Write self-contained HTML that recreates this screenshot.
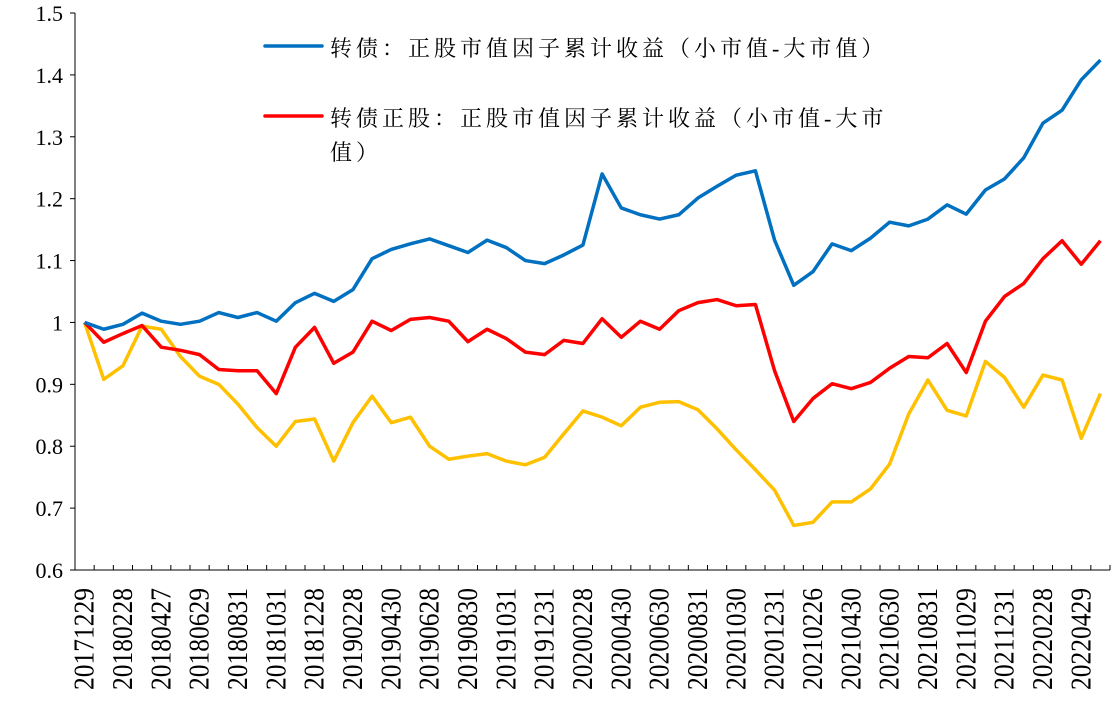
<!DOCTYPE html>
<html><head><meta charset="utf-8"><style>
html,body{margin:0;padding:0;background:#fff;}
svg{display:block;}
</style></head><body>
<svg id="chart" width="1119" height="708" xmlns="http://www.w3.org/2000/svg"></svg>
<script>
const categories = ["20171229","20180131","20180228","20180330","20180427","20180531","20180629","20180731","20180831","20180928","20181031","20181130","20181228","20190131","20190228","20190329","20190430","20190531","20190628","20190731","20190830","20190930","20191031","20191129","20191231","20200123","20200228","20200331","20200430","20200529","20200630","20200731","20200831","20200930","20201030","20201130","20201231","20210129","20210226","20210331","20210430","20210531","20210630","20210730","20210831","20210930","20211029","20211130","20211231","20220128","20220228","20220331","20220429","20220531"];
const blueValues = [1.0,0.989,0.997,1.015,1.002,0.997,1.002,1.016,1.008,1.016,1.002,1.032,1.047,1.034,1.053,1.103,1.118,1.127,1.135,1.124,1.113,1.133,1.121,1.1,1.095,1.109,1.125,1.24,1.185,1.174,1.167,1.174,1.201,1.22,1.238,1.245,1.133,1.06,1.082,1.127,1.116,1.136,1.162,1.156,1.167,1.19,1.175,1.214,1.232,1.266,1.322,1.343,1.392,1.424];
const redValues = [1.0,0.968,0.982,0.995,0.96,0.955,0.948,0.924,0.922,0.922,0.885,0.96,0.992,0.934,0.952,1.002,0.987,1.005,1.008,1.002,0.969,0.989,0.974,0.952,0.948,0.971,0.966,1.006,0.976,1.002,0.989,1.019,1.032,1.037,1.027,1.029,0.922,0.84,0.877,0.901,0.893,0.903,0.926,0.945,0.943,0.966,0.919,1.002,1.042,1.063,1.103,1.132,1.094,1.132];
const yellowValues = [1.0,0.908,0.93,0.994,0.989,0.945,0.913,0.9,0.868,0.83,0.8,0.84,0.844,0.776,0.838,0.881,0.838,0.847,0.8,0.779,0.784,0.788,0.776,0.77,0.782,0.82,0.857,0.847,0.833,0.863,0.871,0.872,0.859,0.828,0.794,0.762,0.729,0.672,0.677,0.71,0.71,0.731,0.771,0.852,0.907,0.858,0.849,0.937,0.911,0.863,0.915,0.907,0.813,0.885];
const yTicks = [0.6,0.7,0.8,0.9,1,1.1,1.2,1.3,1.4,1.5];
const yTickLabels = ["0.6","0.7","0.8","0.9","1","1.1","1.2","1.3","1.4","1.5"];

const NS="http://www.w3.org/2000/svg";
const svg=document.getElementById('chart');
const L=75,R=1110,T=13,B=570,yMin=0.6,yMax=1.5;
const band=(R-L)/categories.length;
const x=i=>L+band*(i+0.5);
const y=v=>B-(v-yMin)/(yMax-yMin)*(B-T);
function mk(tag,attrs){const e=document.createElementNS(NS,tag);for(const k in attrs)e.setAttribute(k,attrs[k]);svg.appendChild(e);return e;}
const serif='"Liberation Serif","Noto Serif CJK SC",serif';

let e=mk('line',{x1:L,y1:T,x2:L,y2:B,stroke:'#000','stroke-width':1});


e=mk('line',{x1:L,y1:B,x2:R,y2:B,stroke:'#000','stroke-width':1});


yTicks.forEach((v,i)=>{
  const t=mk('line',{x1:L-5,y1:y(v),x2:L,y2:y(v),stroke:'#000'});
  
  
  const tx=mk('text',{x:L-12,y:y(v)+8,'text-anchor':'end','font-family':serif,'font-size':22,fill:'#000'});
  tx.textContent=yTickLabels[i];
  
  
});
for(let i=0;i<=categories.length;i++){
  const t=mk('line',{x1:L+band*i,y1:B-5,x2:L+band*i,y2:B,stroke:'#000'});
  
  
}
categories.forEach((c,i)=>{
  if(i%2!==0)return;
  const tx=mk('text',{transform:`translate(${x(i)+9},690) rotate(-90)`,'text-anchor':'start','font-family':serif,'font-size':28,textLength:102,lengthAdjust:'spacingAndGlyphs',fill:'#000'});
  tx.textContent=c;
  
  
});
function series(vals,color,name){
  const p=mk('polyline',{points:vals.map((v,i)=>x(i)+','+y(v)).join(' '),fill:'none',stroke:color,'stroke-width':3.5,'stroke-linejoin':'round'});
  
  
}
series(yellowValues,'#FFC000','yellow-series-line');
series(redValues,'#FF0000','stock-size-factor-line');
series(blueValues,'#0070C0','cb-size-factor-line');

const lg={'font-family':serif,'font-size':22,'letter-spacing':4,fill:'#000'};
e=mk('line',{x1:265,y1:46,x2:322,y2:46,stroke:'#0070C0','stroke-width':3.5,'stroke-linecap':'round'});


e=mk('text',Object.assign({x:330,y:56},lg));
e.textContent='转债：正股市值因子累计收益（小市值-大市值）';


e=mk('line',{x1:265,y1:116,x2:322,y2:116,stroke:'#FF0000','stroke-width':3.5,'stroke-linecap':'round'});


e=mk('text',Object.assign({x:330,y:126},lg));
e.textContent='转债正股：正股市值因子累计收益（小市值-大市';


e=mk('text',Object.assign({x:330,y:160},lg));
e.textContent='值）';


</script>
</body></html>
